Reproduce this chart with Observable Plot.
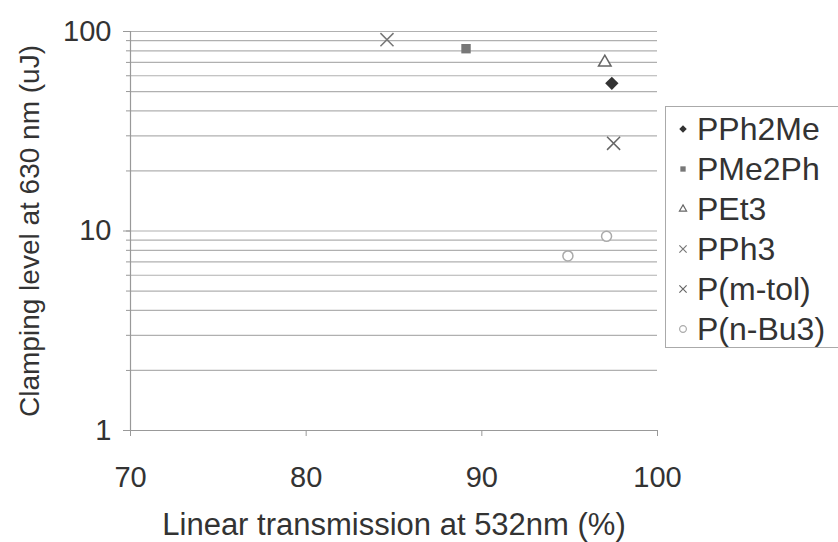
<!DOCTYPE html>
<html>
<head>
<meta charset="utf-8">
<script src="https://cdn.jsdelivr.net/npm/d3@7"></script>
<script src="https://cdn.jsdelivr.net/npm/@observablehq/plot@0.6"></script>
<style>
  html, body { margin: 0; padding: 0; background: #fff; }
  #wrap { position: relative; width: 838px; height: 542px; overflow: hidden; font-family: "Liberation Sans", Arial, sans-serif; }
  #legend { position: absolute; left: 665px; top: 106px; width: 200px; height: 242px; border: 1px solid #aaa; background: #fff; box-sizing: border-box; }
  .row { position: absolute; left: 0; height: 40px; display: flex; align-items: center; font-size: 32px; color: #333; white-space: nowrap; }
  .row svg { margin-left: 10px; margin-right: 7px; }
</style>
</head>
<body>
<div id="wrap"></div>
<script>
// ---- data ----
const seriesNames = ["PPh2Me", "PMe2Ph", "PEt3", "PPh3", "P(m-tol)", "P(n-Bu3)"];
const pointSeries = ["PPh2Me", "PMe2Ph", "PEt3", "PPh3", "P(m-tol)", "P(n-Bu3)", "P(n-Bu3)"];
const transmission = [97.4, 89.1, 97.0, 84.6, 97.5, 97.1, 94.9];
const clamping = [55, 82, 70, 91, 27.5, 9.4, 7.5];
const xTicks = [70, 80, 90, 100];
const yTicks = [1, 10, 100];

// ---- styles per series ----
const styles = {
  "PPh2Me":   {symbol: "diamond2", fill: "#333", stroke: "none", r: 6},
  "PMe2Ph":   {symbol: "square2",  fill: "#777", stroke: "none", r: 6},
  "PEt3":     {symbol: "triangle2", fill: "white", stroke: "#666", r: 6},
  "PPh3":     {symbol: "times",    fill: "none", stroke: "#777", r: 6},
  "P(m-tol)": {symbol: "times",    fill: "none", stroke: "#666", r: 6},
  "P(n-Bu3)": {symbol: "circle",   fill: "white", stroke: "#aaa", r: 5}
};

const points = pointSeries.map((s, i) => ({series: s, x: transmission[i], y: clamping[i]}));
const minor = [];
for (const d of [1, 10]) for (let k = 2; k <= 10; k++) minor.push(k * d);

const dotMarks = seriesNames.map(name => {
  const st = styles[name];
  return Plot.dot(points.filter(p => p.series === name), {
    x: "x", y: "y", symbol: () => st.symbol, r: st.r,
    fill: st.fill, stroke: st.stroke, strokeWidth: 1.5
  });
});

const chart = Plot.plot({
  width: 838,
  height: 542,
  marginLeft: 130,
  marginRight: 181,
  marginTop: 31,
  marginBottom: 112,
  style: {fontFamily: "Liberation Sans, Arial, sans-serif", fontSize: "29px", color: "#333", background: "white"},
  x: {domain: [70, 100], label: null},
  y: {type: "log", domain: [1, 100], label: null},
  symbol: {type: "identity"},
  marks: [
    Plot.gridY(minor, {stroke: "#b0b0b0", strokeOpacity: 1, strokeWidth: 1.2}),
    Plot.ruleX([70], {stroke: "#999", strokeWidth: 1.2}),
    Plot.ruleY([1], {stroke: "#999", strokeWidth: 1.2}),
    Plot.axisY(minor, {tickSize: 4, tickFormat: () => "", stroke: "#999"}),
    Plot.axisY(yTicks, {tickSize: 7, tickPadding: 12, tickFormat: d => String(d), fontSize: 29, fill: "#333", stroke: "#999"}),
    Plot.axisX(xTicks, {tickSize: 6, tickPadding: 30, tickFormat: d => String(d), fontSize: 29, fill: "#333", stroke: "#999"}),
    Plot.text(["Linear transmission at 532nm (%)"], {frameAnchor: "bottom", dy: 104, fontSize: 31, fill: "#333"}),
    Plot.text(["Clamping level at 630 nm (uJ)"], {frameAnchor: "left", dx: -100, rotate: -90, textAnchor: "middle", fontSize: 28, fill: "#333"}),
    ...dotMarks
  ]
});
const wrap = document.getElementById("wrap");
wrap.appendChild(chart);

// ---- legend ----
const legend = document.createElement("div");
legend.id = "legend";
const symMap = {diamond2: d3.symbolDiamond2, square2: d3.symbolSquare2, triangle2: d3.symbolTriangle2, times: d3.symbolTimes, circle: d3.symbolCircle};
seriesNames.forEach((name, i) => {
  const st = styles[name];
  const row = document.createElement("div");
  row.className = "row";
  row.style.top = (2 + i * 40) + "px";
  const sym = d3.symbol(symMap[st.symbol], 36)();
  row.innerHTML = `<svg width="14" height="14" viewBox="-7 -7 14 14"><path d="${sym}" fill="${st.fill}" stroke="${st.stroke}" stroke-width="1.2"/></svg><span>${name}</span>`;
  legend.appendChild(row);
});
wrap.appendChild(legend);
</script>
</body>
</html>
